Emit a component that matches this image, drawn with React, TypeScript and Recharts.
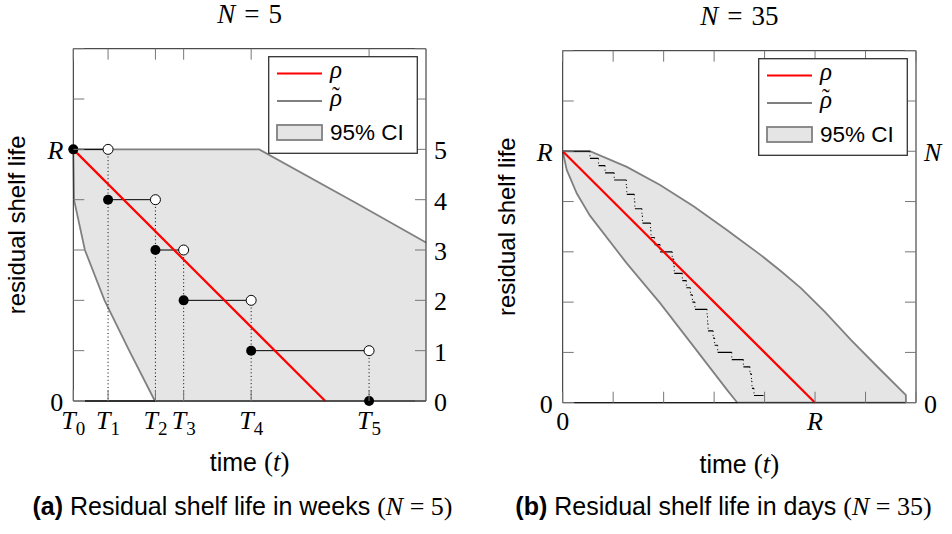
import React from 'react'
import { ComposedChart, Area, Line, Scatter, XAxis, YAxis, Legend } from 'recharts'

const SERIF = '"Liberation Serif", "DejaVu Serif", serif'
const SANS = '"Liberation Sans", "DejaVu Sans", sans-serif'
const RED = '#ff0000'
const BAND_FILL = '#e5e5e5'
const BAND_STROKE = '#808080'
const FRAME = { stroke: '#222', strokeWidth: 1 }

// both panels share the same unit box: 0..7 on x and y, R sits at 5
const R = 5
const DOMAIN: [number, number] = [0, 7]
const UNIT_TICKS = [0, 1, 2, 3, 4, 5, 6, 7]

// ---- panel (a): weeks, N = 5 ----
const N_A = 5
const stepTimesA = [0, 0.69, 1.63, 2.19, 3.53, 5.87] // T0..T5
const xTickLabelsA = [['T', '0'], ['T', '1'], ['T', '2'], ['T', '3'], ['T', '4'], ['T', '5']]
const rightTicksA = [0, 1, 2, 3, 4, 5]
const rightTickLabelsA = ['0', '1', '2', '3', '4', '5']
const bandXA = [0, 0.014, 0.23, 0.62, 1.11, 1.62, 3.69, 5.62, 7]
const bandLowA = [5, 4, 3, 2, 1, 0, 0, 0, 0]
const bandHighA = [5, 5, 5, 5, 5, 5, 5, 3.93, 3.15]
const baseSegA = [0.23, 1.62]

// ---- panel (b): days, N = 35 ----
const N_B = 35
// T0..T35, read from the end of each little step
const stepTimesB = [
  0, 0.54, 0.71, 0.84, 1.02, 1.26, 1.27, 1.42, 1.43, 1.57, 1.58, 1.74, 1.75,
  1.82, 1.93, 2.17, 2.2, 2.21, 2.37, 2.45, 2.53, 2.57, 2.62, 2.86, 2.87, 2.88,
  2.98, 3.01, 3.07, 3.35, 3.58, 3.71, 3.74, 3.75, 3.79, 3.98,
]
const xTicksB = [0, 5]
const xTickLabelsB = [['0'], ['R']]
const bandXB = [0, 0.08, 0.28, 0.54, 1.27, 1.93, 2.6, 3.26, 3.46, 3.92, 4.32, 4.72, 5.2, 5.71, 6.25, 6.8, 6.8]
const bandLowB = [5, 4.63, 4.16, 3.72, 2.77, 1.98, 1.11, 0.25, 0, 0, 0, 0, 0, 0, 0, 0, 0]
const bandHighB = [5, 5, 5, 5, 4.69, 4.33, 3.9, 3.43, 3.28, 2.94, 2.62, 2.28, 1.8, 1.25, 0.7, 0.15, 0]
const baseSegB = [0.23, 3.46]

type Pt = { x: number; y: number | null }

const rho: Pt[] = [{ x: 0, y: R }, { x: R, y: 0 }]

function levels(times: number[], n: number) {
  return times.map((_, k) => ((n - k) * R) / n)
}

function stepLine(times: number[], lv: number[]): Pt[] {
  return times.slice(0, -1).flatMap((t, k) => [
    { x: t, y: lv[k] },
    { x: times[k + 1], y: lv[k] },
    { x: times[k + 1], y: null },
  ])
}

const levelsA = levels(stepTimesA, N_A)
const stepA = stepLine(stepTimesA, levelsA)
const dropA: Pt[] = stepTimesA.slice(1).flatMap((t, k) => [
  { x: t, y: levelsA[k] },
  { x: t, y: 0 },
  { x: t, y: null },
])
const filledA = stepTimesA.map((t, k) => ({ x: t, y: levelsA[k] }))
const openA = stepTimesA.slice(1).map((t, k) => ({ x: t, y: levelsA[k] }))

const levelsB = levels(stepTimesB, N_B)
const stepB = stepLine(stepTimesB, levelsB)
const dropB: Pt[] = stepTimesB.slice(1, -1).flatMap((t, k) => [
  { x: t, y: levelsB[k] },
  { x: t, y: levelsB[k + 1] },
  { x: t, y: null },
])

const bandA = bandXA.map((x, i) => ({ x, ci: [bandLowA[i], bandHighA[i]] }))
const bandB = bandXB.map((x, i) => ({ x, ci: [bandLowB[i], bandHighB[i]] }))

const TICK_LEN = 11

function MathLabel({ parts, x, y, anchor }: { parts: string[]; x: number; y: number; anchor: string }) {
  const [main, sub] = parts
  const italic = !/^[0-9]+$/.test(main)
  return (
    <text x={x} y={y} textAnchor={anchor} fontFamily={SERIF} fontSize={26} fill="#000">
      <tspan fontStyle={italic ? 'italic' : 'normal'}>{main}</tspan>
      {sub && (
        <tspan fontSize={19} dy={6}>
          {sub}
        </tspan>
      )}
    </text>
  )
}

// axes are 1px thick, so the tick anchor is the plot edge itself
function makeTick(side: 'bottom' | 'top' | 'left' | 'right', labels?: (string[] | null)[]) {
  return (p: any) => {
    const { x, y, index } = p
    let line
    if (side === 'bottom') line = <line x1={x} x2={x} y1={y} y2={y - TICK_LEN} />
    else if (side === 'top') line = <line x1={x} x2={x} y1={y} y2={y + TICK_LEN} />
    else if (side === 'left') line = <line x1={x} x2={x + TICK_LEN} y1={y} y2={y} />
    else line = <line x1={x} x2={x - TICK_LEN} y1={y} y2={y} />
    const lab = labels ? labels[index] : null
    return (
      <g>
        <g stroke="#777" strokeWidth={1}>{line}</g>
        {lab && side === 'bottom' && <MathLabel parts={lab} x={x} y={y + 27.5} anchor="middle" />}
        {lab && side === 'left' && <MathLabel parts={lab} x={x - 10} y={y + 10} anchor="end" />}
        {lab && side === 'right' && <MathLabel parts={lab} x={x + 8} y={y + 10} anchor="start" />}
      </g>
    )
  }
}

function LegendBox() {
  return (
    <svg width={150} height={98} style={{ display: 'block', overflow: 'visible' }}>
      <rect x={0.7} y={0.7} width={148.6} height={96.6} fill="#fff" stroke="#333" strokeWidth={1.3} />
      <line x1={9} x2={54} y1={17.5} y2={17.5} stroke={RED} strokeWidth={2.2} />
      <text x={62} y={22} fontFamily={SERIF} fontStyle="italic" fontSize={25}>ρ</text>
      <line x1={9} x2={54} y1={45} y2={45} stroke="#000" strokeWidth={1} />
      <text x={62} y={50} fontFamily={SERIF} fontSize={25}>
        <tspan fontStyle="italic">ρ</tspan>
        <tspan dx={-10} dy={-3} fontSize={23}>˜</tspan>
      </text>
      <rect x={9} y={69} width={45} height={15} fill={BAND_FILL} stroke={BAND_STROKE} strokeWidth={1.8} />
      <text x={62} y={83.5} fontFamily={SANS} fontSize={22.5}>95% CI</text>
    </svg>
  )
}

function timeTitle(p: any) {
  const vb = p.viewBox
  return (
    <text x={vb.x + vb.width / 2} y={vb.y + 70} textAnchor="middle" fontSize={25} fill="#000">
      <tspan fontFamily={SANS}>time </tspan>
      <tspan fontFamily={SERIF} fontSize={27}>(</tspan>
      <tspan fontFamily={SERIF} fontSize={27} fontStyle="italic">t</tspan>
      <tspan fontFamily={SERIF} fontSize={27}>)</tspan>
    </text>
  )
}

function shelfTitle(p: any) {
  const vb = p.viewBox
  const cx = vb.x + vb.width - 48
  const cy = vb.y + vb.height / 2
  return (
    <text x={cx} y={cy} transform={`rotate(-90 ${cx} ${cy})`} textAnchor="middle" fontFamily={SANS} fontSize={24} fill="#000">
      residual shelf life
    </text>
  )
}

function nTitle(n: number, lift: number) {
  return (p: any) => {
    const vb = p.viewBox
    return (
      <text x={vb.x + vb.width / 2} y={vb.y + vb.height - lift} textAnchor="middle" fontFamily={SERIF} fontSize={27} fill="#000">
        <tspan fontStyle="italic">N</tspan>
        <tspan dx={9}>=</tspan>
        <tspan dx={9}>{n}</tspan>
      </text>
    )
  }
}

const dotFilled = (p: any) => <circle cx={p.cx} cy={p.cy} r={5} fill="#000" />
const dotOpen = (p: any) => <circle cx={p.cx} cy={p.cy} r={5} fill="#fff" stroke="#000" strokeWidth={1} />

const AXIS_COMMON = {
  type: 'number' as const,
  domain: DOMAIN,
  interval: 0 as const,
  tickSize: 0,
  tickMargin: 0,
  tickLine: false,
  axisLine: FRAME,
}

function PanelA() {
  return (
    <div style={{ position: 'absolute', left: 0, top: 0 }}>
      <ComposedChart width={476} height={534} data={bandA} margin={{ top: 47.7, left: 72.3, right: 49, bottom: 132 }}>
        <XAxis {...AXIS_COMMON} dataKey="x" ticks={stepTimesA} height={1}
          tick={makeTick('bottom', xTickLabelsA)} label={timeTitle} />
        <XAxis {...AXIS_COMMON} xAxisId="top" orientation="top" dataKey="x" ticks={stepTimesA} height={1}
          allowDataOverflow tick={makeTick('top')} label={nTitle(N_A, 25.4)} />
        <YAxis {...AXIS_COMMON} ticks={UNIT_TICKS} width={1}
          tick={makeTick('left', UNIT_TICKS.map((v) => (v === 0 ? ['0'] : v === R ? ['R'] : null)))}
          label={shelfTitle} />
        <YAxis {...AXIS_COMMON} yAxisId="right" orientation="right" ticks={UNIT_TICKS} width={1} allowDataOverflow
          tick={makeTick('right', UNIT_TICKS.map((v) => (rightTicksA.includes(v) ? [rightTickLabelsA[v]] : null)))} />
        <Area dataKey="ci" type="linear" fill={BAND_FILL} fillOpacity={1} stroke={BAND_STROKE} strokeWidth={1.8}
          isAnimationActive={false} dot={false} activeDot={false} />
        <Line data={[{ x: baseSegA[0], y: 0 }, { x: baseSegA[1], y: 0 }]} dataKey="y" type="linear" stroke="#000"
          strokeWidth={1.3} dot={false} activeDot={false} isAnimationActive={false} />
        <Line data={dropA} dataKey="y" type="linear" stroke="#000" strokeWidth={1} strokeDasharray="1 2.6"
          dot={false} activeDot={false} isAnimationActive={false} />
        <Line data={stepA} dataKey="y" type="linear" stroke="#000" strokeWidth={1} dot={false} activeDot={false}
          isAnimationActive={false} />
        <Line data={rho} dataKey="y" type="linear" stroke={RED} strokeWidth={2.2} dot={false} activeDot={false}
          isAnimationActive={false} />
        <Scatter data={openA} dataKey="y" shape={dotOpen} isAnimationActive={false} />
        <Scatter data={filledA} dataKey="y" shape={dotFilled} isAnimationActive={false} />
        <Legend layout="vertical" align="center" verticalAlign="middle" content={() => <LegendBox />}
          wrapperStyle={{ left: 268.3, top: 55.7, width: 150, height: 98 }} />
      </ComposedChart>
    </div>
  )
}

function PanelB() {
  return (
    <div style={{ position: 'absolute', left: 476, top: 0 }}>
      <ComposedChart width={476} height={534} data={bandB} margin={{ top: 49.7, left: 85.7, right: 35, bottom: 130.3 }}>
        <XAxis {...AXIS_COMMON} dataKey="x" ticks={UNIT_TICKS} height={1}
          tick={makeTick('bottom', UNIT_TICKS.map((v) => {
            const i = xTicksB.indexOf(v)
            return i >= 0 ? xTickLabelsB[i] : null
          }))} label={timeTitle} />
        <XAxis {...AXIS_COMMON} xAxisId="top" orientation="top" dataKey="x" ticks={UNIT_TICKS} height={1}
          allowDataOverflow tick={makeTick('top')} label={nTitle(N_B, 25.7)} />
        <YAxis {...AXIS_COMMON} ticks={UNIT_TICKS} width={1}
          tick={makeTick('left', UNIT_TICKS.map((v) => (v === 0 ? ['0'] : v === R ? ['R'] : null)))}
          label={shelfTitle} />
        <YAxis {...AXIS_COMMON} yAxisId="right" orientation="right" ticks={UNIT_TICKS} width={1} allowDataOverflow
          tick={makeTick('right', UNIT_TICKS.map((v) => (v === 0 ? ['0'] : v === R ? ['N'] : null)))} />
        <Area dataKey="ci" type="linear" fill={BAND_FILL} fillOpacity={1} stroke={BAND_STROKE} strokeWidth={1.8}
          isAnimationActive={false} dot={false} activeDot={false} />
        <Line data={[{ x: baseSegB[0], y: 0 }, { x: baseSegB[1], y: 0 }]} dataKey="y" type="linear" stroke="#000"
          strokeWidth={1.3} dot={false} activeDot={false} isAnimationActive={false} />
        <Line data={dropB} dataKey="y" type="linear" stroke="#000" strokeWidth={1} strokeDasharray="1 3"
          dot={false} activeDot={false} isAnimationActive={false} />
        <Line data={stepB} dataKey="y" type="linear" stroke="#000" strokeWidth={1.2} dot={false} activeDot={false}
          isAnimationActive={false} />
        <Line data={rho} dataKey="y" type="linear" stroke={RED} strokeWidth={2.2} dot={false} activeDot={false}
          isAnimationActive={false} />
        <Legend layout="vertical" align="center" verticalAlign="middle" content={() => <LegendBox />}
          wrapperStyle={{ left: 282.3, top: 58.3, width: 150, height: 98 }} />
      </ComposedChart>
    </div>
  )
}

function Caption({ cx, tag, text, n }: { cx: number; tag: string; text: string; n: number }) {
  return (
    <text x={cx} y={515} textAnchor="middle" fontSize={25} fill="#000">
      <tspan fontFamily={SANS} fontWeight="bold">({tag})</tspan>
      <tspan fontFamily={SANS}> {text} </tspan>
      <tspan fontFamily={SERIF} fontSize={26}>(</tspan>
      <tspan fontFamily={SERIF} fontSize={26} fontStyle="italic">N</tspan>
      <tspan fontFamily={SERIF} fontSize={26}> = {n})</tspan>
    </text>
  )
}

export default function App() {
  return (
    <div style={{ position: 'absolute', left: 0, top: 0, width: 952, height: 534, background: '#fff' }}>
      <PanelA />
      <PanelB />
      <svg width={952} height={534} style={{ position: 'absolute', left: 0, top: 0, pointerEvents: 'none' }}>
        <Caption cx={242.5} tag="a" text="Residual shelf life in weeks" n={N_A} />
        <Caption cx={723.5} tag="b" text="Residual shelf life in days" n={N_B} />
      </svg>
    </div>
  )
}
